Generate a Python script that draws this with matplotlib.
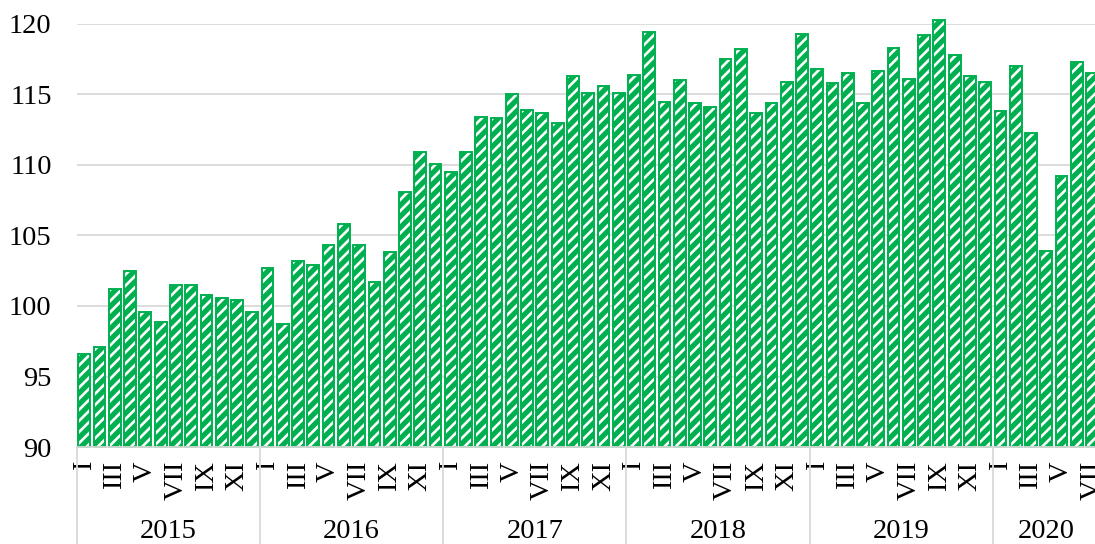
import numpy as np
import matplotlib
matplotlib.use("Agg")
import matplotlib.pyplot as plt
import matplotlib.transforms as mtransforms

plt.rcParams['font.family'] = ['Liberation Serif', 'DejaVu Serif']
plt.rcParams['hatch.linewidth'] = 1.9

# monthly index values, Jan 2015 .. Jul 2020
years = ['2015', '2016', '2017', '2018', '2019', '2020']
months_in_year = [12, 12, 12, 12, 12, 7]
month_labels = ['I', 'II', 'III', 'IV', 'V', 'VI', 'VII', 'VIII', 'IX', 'X', 'XI', 'XII']

v2015 = [96.6, 97.1, 101.2, 102.5, 99.6, 98.9, 101.5, 101.5, 100.8, 100.6, 100.4, 99.6]
v2016 = [102.7, 98.7, 103.2, 102.9, 104.3, 105.8, 104.3, 101.7, 103.8, 108.1, 110.9, 110.1]
v2017 = [109.5, 110.9, 113.4, 113.3, 115.0, 113.9, 113.7, 113.0, 116.3, 115.1, 115.6, 115.1]
v2018 = [116.4, 119.4, 114.5, 116.0, 114.4, 114.1, 117.5, 118.2, 113.7, 114.4, 115.9, 119.3]
v2019 = [116.8, 115.8, 116.5, 114.4, 116.7, 118.3, 116.1, 119.2, 120.3, 117.8, 116.3, 115.9]
v2020 = [113.8, 117.0, 112.3, 103.9, 109.2, 117.3, 116.5]

values = v2015 + v2016 + v2017 + v2018 + v2019 + v2020
green = '#00b050'
grid_c = '#d9d9d9'
fs = 20.5

fig = plt.figure(figsize=(10.95, 5.44), dpi=100)
ax = fig.add_axes([0.070, 0.1783, 0.9343, 0.7776])

x = np.arange(len(values))
base = 90
heights = np.array(values) - base

# green body with white diagonal stripes, then green outline
ax.bar(x, heights, bottom=base, width=0.77, color=green, edgecolor='white',
       hatch='///', linewidth=0, zorder=2, clip_on=False)
ax.bar(x, heights, bottom=base, width=0.77, fill=False, edgecolor=green,
       linewidth=1.4, zorder=3, clip_on=False)

ax.set_xlim(-0.5, len(values) - 0.5)
ax.set_ylim(90, 120)
ax.set_yticks(np.arange(90, 121, 5))
ax.yaxis.grid(True, color=grid_c, linewidth=1.3)
ax.set_axisbelow(True)
for s in ['top', 'right', 'left']:
    ax.spines[s].set_visible(False)
ax.spines['bottom'].set_color(grid_c)
ax.spines['bottom'].set_linewidth(1.3)
ax.spines['bottom'].set_zorder(5)
ax.tick_params(axis='y', length=0, pad=18, labelsize=fs)

# month labels: odd months only
ticks = []
labels = []
i = 0
for n in months_in_year:
    for m in range(0, n, 2):
        ticks.append(i + m)
        labels.append(month_labels[m])
    i += n
ax.set_xticks(ticks)
ax.set_xticklabels(labels, rotation=90, fontsize=fs)
ax.tick_params(axis='x', length=0, pad=10)

# year groups with separators
trans = mtransforms.blended_transform_factory(ax.transData, ax.transAxes)
start = 0
for yr, n in zip(years, months_in_year):
    ax.plot([start - 0.5, start - 0.5], [0, -0.25], color=grid_c, linewidth=1.3,
            transform=trans, clip_on=False)
    ax.text(start + (n - 1) / 2, -0.199, yr, transform=trans, ha='center',
            va='center', fontsize=fs)
    start += n
ax.plot([start - 0.5, start - 0.5], [0, -0.25], color=grid_c, linewidth=1.3,
        transform=trans, clip_on=False)

fig.savefig('out.png', dpi=100)
